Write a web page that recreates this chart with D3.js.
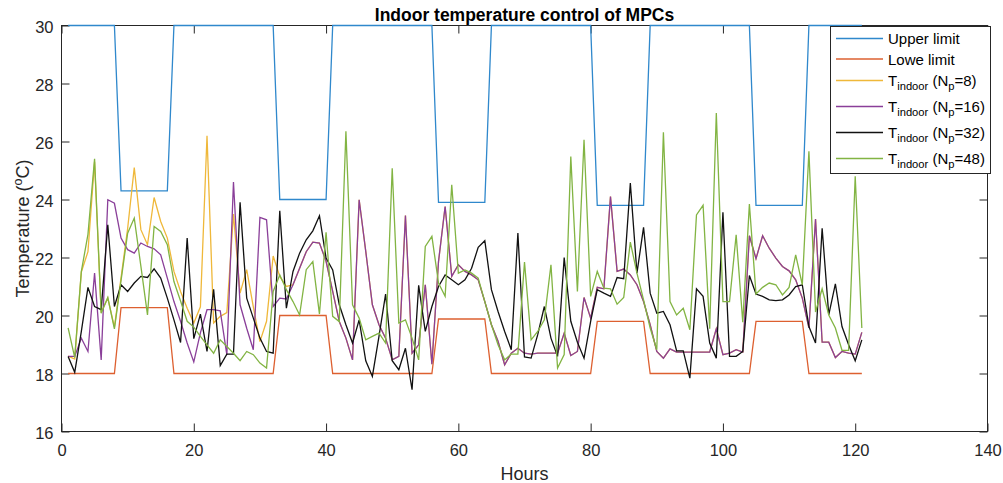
<!DOCTYPE html>
<meta charset='utf-8'>
<title>Indoor temperature control of MPCs</title>
<style>
html, body {
  margin: 0;
  padding: 0;
  background: #fff;
}
svg text {
  font-family: 'Liberation Sans', Arial, sans-serif;
  fill: #262626;
}
</style>
<script src='https://d3js.org/d3.v7.min.js'></script>
<body>
<svg id='chart' width='1003' height='483'></svg>
<script>
// Hours on the x axis (1 .. 121)
var hours = [1,2,3,4,5,6,7,8,9,10,11,12,13,14,15,16,17,18,19,20,
  21,22,23,24,25,26,27,28,29,30,31,32,33,34,35,36,37,38,39,40,
  41,42,43,44,45,46,47,48,49,50,51,52,53,54,55,56,57,58,59,60,
  61,62,63,64,65,66,67,68,69,70,71,72,73,74,75,76,77,78,79,80,
  81,82,83,84,85,86,87,88,89,90,91,92,93,94,95,96,97,98,99,100,
  101,102,103,104,105,106,107,108,109,110,111,112,113,114,115,116,117,118,119,120,121];

var upperLimit = [30,30,30,30,30,30,30,30, 24.3,24.3,24.3,24.3,24.3,24.3,24.3,24.3,
  30,30,30,30,30,30,30,30,30,30,30,30,30,30,30,30, 24,24,24,24,24,24,24,24,
  30,30,30,30,30,30,30,30,30,30,30,30,30,30,30,30, 23.9,23.9,23.9,23.9,23.9,23.9,23.9,23.9,
  30,30,30,30,30,30,30,30,30,30,30,30,30,30,30,30, 23.8,23.8,23.8,23.8,23.8,23.8,23.8,23.8,
  30,30,30,30,30,30,30,30,30,30,30,30,30,30,30,30, 23.8,23.8,23.8,23.8,23.8,23.8,23.8,23.8,
  30,30,30,30,30,30,30,30,30];

var lowerLimit = [18,18,18,18,18,18,18,18, 20.27,20.27,20.27,20.27,20.27,20.27,20.27,20.27,
  18,18,18,18,18,18,18,18,18,18,18,18,18,18,18,18, 20,20,20,20,20,20,20,20,
  18,18,18,18,18,18,18,18,18,18,18,18,18,18,18,18, 19.88,19.88,19.88,19.88,19.88,19.88,19.88,19.88,
  18,18,18,18,18,18,18,18,18,18,18,18,18,18,18,18, 19.8,19.8,19.8,19.8,19.8,19.8,19.8,19.8,
  18,18,18,18,18,18,18,18,18,18,18,18,18,18,18,18, 19.8,19.8,19.8,19.8,19.8,19.8,19.8,19.8,
  18,18,18,18,18,18,18,18,18];

// Indoor temperature, Np = 8 (mostly hidden behind Np = 16 after hour 34)
var tNp8 = [18.6,18.5,21.5,22.2,25.3,20.1,20.6,19.6,21.3,23.0,25.1,22.96,22.44,24.07,23.24,22.67,21.52,20.83,20.25,19.74,
  20.3,26.2,19.74,19.97,20.1,23.5,20.77,21.58,20.3,19.1,19.8,22.05,21.35,21.0,21.06,21.63,22.2,22.53,22.5,21.87,
  20.83,19.79,19.22,18.47,23.99,22.21,20.37,19.68,19.22,18.47,18.59,23.45,18.7,18.99,21.06,18.32,21.86,23.76,21.35,21.75,
  21.52,21.4,21.23,20.48,19.68,19.11,18.3,18.7,18.87,18.7,18.67,18.7,18.7,18.7,18.7,19.39,18.62,18.76,20.62,19.91,
  20.97,20.92,24.1,21.52,21.6,21.4,21.06,20.48,19.68,18.76,18.53,18.85,18.74,18.74,18.74,18.74,18.74,18.74,19.54,18.65,
  18.7,18.82,18.74,22.75,21.96,22.75,22.32,21.98,21.69,21.54,21.23,20.6,19.57,23.33,19.08,19.08,18.55,18.76,18.7,18.67,19.42];

// Indoor temperature, Np = 16
var tNp16 = [18.59,18.59,19.22,18.76,21.46,18.47,23.99,23.87,22.67,22.27,22.15,22.5,22.38,22.3,22.09,21.29,20.48,19.8,19.05,18.4,
  19.4,20.2,20.2,20.16,18.64,24.6,20.37,19.56,18.82,23.38,23.3,20.31,20.6,20.57,21.06,21.63,22.2,22.53,22.5,21.87,
  20.83,19.79,19.22,18.47,23.99,22.21,20.37,19.68,19.22,18.47,18.59,23.45,18.7,18.99,21.06,18.32,21.86,23.76,21.35,21.75,
  21.52,21.4,21.23,20.48,19.68,19.11,18.3,18.7,18.87,18.7,18.67,18.7,18.7,18.7,18.7,19.39,18.62,18.76,20.62,19.91,
  20.97,20.92,24.1,21.52,21.6,21.4,21.06,20.48,19.68,18.76,18.53,18.85,18.74,18.74,18.74,18.74,18.74,18.74,19.54,18.65,
  18.7,18.82,18.74,22.75,21.96,22.75,22.32,21.98,21.69,21.54,21.23,20.6,19.57,23.33,19.08,19.08,18.55,18.76,18.7,18.67,19.42];

// Indoor temperature, Np = 32
var tNp32 = [18.59,18.04,19.45,20.97,20.31,20.2,23.13,20.31,21.06,20.83,21.12,21.35,21.31,21.61,21.29,20.6,19.85,19.07,22.67,19.2,
  20.05,18.76,20.9,18.27,18.67,18.67,23.9,20.6,19.91,19.22,18.76,18.7,23.61,20.25,21.52,22.15,22.61,22.92,23.44,21.98,
  21.57,20.37,19.68,19.05,19.85,18.44,17.9,19.28,20.74,18.44,18.13,18.87,17.44,21.04,19.45,20.31,21.0,21.4,21.23,21.06,
  21.23,21.63,22.35,22.58,20.89,20.14,19.45,18.82,22.84,18.57,18.53,19.34,20.31,19.22,18.59,22.0,19.8,19.08,18.53,19.8,
  20.89,20.77,20.66,21.31,21.27,24.57,21.46,23.04,20.77,20.08,20.14,19.68,18.78,18.78,17.84,20.92,20.66,19.05,18.53,23.56,
  18.59,18.59,18.76,21.38,20.74,20.66,20.54,20.51,20.54,20.71,21.0,21.06,19.62,19.05,23.01,20.02,21.09,19.62,18.99,18.44,19.16];

// Indoor temperature, Np = 48
var tNp48 = [19.57,18.55,21.52,22.8,25.4,20.08,20.62,19.54,21.2,22.84,23.36,21.7,20.02,23.07,22.9,22.44,21.17,20.5,19.8,19.6,
  19.28,18.99,18.7,19.16,18.93,18.7,18.44,18.76,18.65,18.36,18.19,20.83,21.4,20.89,20.48,20.02,21.58,21.86,20.05,22.87,
  19.97,19.79,26.35,20.37,19.91,19.16,19.28,19.39,19.05,25.08,19.74,19.85,19.22,18.47,22.38,22.73,21.12,20.66,24.51,21.46,
  21.57,21.46,21.29,20.48,19.68,18.99,18.47,18.67,18.67,21.84,19.16,19.45,19.85,21.75,18.19,18.65,25.48,20.83,26.06,20.66,
  21.52,20.94,20.92,20.39,20.62,22.53,21.46,20.54,19.57,18.82,26.32,20.48,20.02,20.25,19.51,23.47,23.8,19.54,26.98,20.48,
  20.48,22.78,19.77,23.84,20.74,20.97,21.12,21.06,20.71,20.97,22.09,21.06,25.66,20.12,20.92,20.02,19.57,18.8,18.8,24.8,19.57];

var xTicks = [0, 20, 40, 60, 80, 100, 120, 140];
var yTicks = [16, 18, 20, 22, 24, 26, 28, 30];

// Series in drawing order
var seriesNames = ['Upper limit', 'Lowe limit', 'T', 'T', 'T', 'T'];
var seriesNp = [null, null, 8, 16, 32, 48];
var seriesColors = ['#2f88cc', '#dd6030', '#efb83a', '#8a3f99', '#111111', '#82b443'];
var seriesValues = [upperLimit, lowerLimit, tNp8, tNp16, tNp32, tNp48];

// Layout (window.top is reserved, so plot edges get their own names)
var plotL = 61.5, plotR = 987.5, plotT = 25.5, plotB = 431.5;
var tickLen = 8;
var axisColor = '#262626';
var tickFont = 16.5;
var labelFont = 18;

var svg = d3.select('#chart');

var x = d3.scaleLinear().domain([0, 140]).range([plotL, plotR]);
var y = d3.scaleLinear().domain([16, 30]).range([plotB, plotT]);

// Axes with inward ticks on all four sides
function styleAxis(g) {
  g.select('.domain').remove();
  g.selectAll('.tick line').attr('stroke', axisColor);
  g.selectAll('.tick text')
    .attr('font-size', tickFont)
    .attr('font-family', "'Liberation Sans', Arial, sans-serif")
    .attr('fill', axisColor);
}

svg.append('g')
  .attr('transform', 'translate(0,' + plotB + ')')
  .call(d3.axisBottom(x).tickValues(xTicks).tickSize(-tickLen).tickPadding(13))
  .call(styleAxis);

svg.append('g')
  .attr('transform', 'translate(0,' + plotT + ')')
  .call(d3.axisTop(x).tickValues(xTicks).tickSize(-tickLen).tickFormat(''))
  .call(styleAxis);

svg.append('g')
  .attr('transform', 'translate(' + plotL + ',0)')
  .call(d3.axisLeft(y).tickValues(yTicks).tickSize(-tickLen).tickPadding(8))
  .call(styleAxis)
  .selectAll('.tick text').attr('dy', 7);

svg.append('g')
  .attr('transform', 'translate(' + plotR + ',0)')
  .call(d3.axisRight(y).tickValues(yTicks).tickSize(-tickLen).tickFormat(''))
  .call(styleAxis);

// Box
svg.append('rect')
  .attr('x', plotL)
  .attr('y', plotT)
  .attr('width', plotR - plotL)
  .attr('height', plotB - plotT)
  .attr('fill', 'none')
  .attr('stroke', axisColor)
  .attr('stroke-width', 1);

// Lines
var line = d3.line()
  .x(function (d, i) { return x(hours[i]); })
  .y(function (d) { return y(d); });

svg.selectAll('path.series')
  .data(seriesValues)
  .enter()
  .append('path')
  .attr('class', 'series')
  .attr('fill', 'none')
  .attr('stroke', function (d, i) { return seriesColors[i]; })
  .attr('stroke-width', 1.3)
  .attr('d', line);

// Title
svg.append('text')
  .attr('x', (plotL + plotR) / 2)
  .attr('y', 21)
  .attr('text-anchor', 'middle')
  .attr('font-size', 17.5)
  .attr('font-weight', 'bold')
  .style('fill', '#000')
  .text('Indoor temperature control of MPCs');

// X label
svg.append('text')
  .attr('x', (plotL + plotR) / 2)
  .attr('y', 480)
  .attr('text-anchor', 'middle')
  .attr('font-size', labelFont)
  .text('Hours');

// Y label with superscript o
var yLabel = svg.append('text')
  .attr('transform', 'translate(29,' + (plotT + plotB) / 2 + ')rotate(-90)')
  .attr('text-anchor', 'middle')
  .attr('font-size', labelFont);
yLabel.append('tspan').text('Temperature (');
yLabel.append('tspan').attr('font-size', 12.5).attr('dy', -7).text('o');
yLabel.append('tspan').attr('dy', 7).text('C)');

// Legend
var legX0 = 830.5, legX1 = 990.5, legY0 = 26.5, legY1 = 173.5;
var rowGap = [0, 20.5, 21.5, 26, 26, 26];
var rowY = [];
rowGap.reduce(function (acc, g) { acc += g; rowY.push(acc); return acc; }, 38.5);

var legend = svg.append('g').attr('class', 'legend');

legend.append('rect')
  .attr('x', legX0)
  .attr('y', legY0)
  .attr('width', legX1 - legX0)
  .attr('height', legY1 - legY0)
  .attr('fill', '#fff')
  .attr('stroke', axisColor)
  .attr('stroke-width', 1);

var rows = legend.selectAll('g.row')
  .data(seriesNames)
  .enter()
  .append('g')
  .attr('class', 'row')
  .attr('transform', function (d, i) { return 'translate(0,' + rowY[i] + ')'; });

rows.append('line')
  .attr('x1', 836)
  .attr('x2', 883)
  .attr('stroke', function (d, i) { return seriesColors[i]; })
  .attr('stroke-width', 1.3);

rows.each(function (d, i) {
  var t = d3.select(this).append('text')
    .attr('x', 888)
    .attr('y', 5.5)
    .attr('font-size', 15)
    .style('fill', '#000');
  if (seriesNp[i] === null) {
    t.text(d);
    return;
  }
  t.append('tspan').text(d);
  t.append('tspan').attr('font-size', 11.2).attr('dy', 4).text('indoor');
  t.append('tspan').attr('dy', -4).text(' (N');
  t.append('tspan').attr('font-size', 11.2).attr('dy', 4).text('p');
  t.append('tspan').attr('dy', -4).text('=' + seriesNp[i] + ')');
});
</script>
</body>
